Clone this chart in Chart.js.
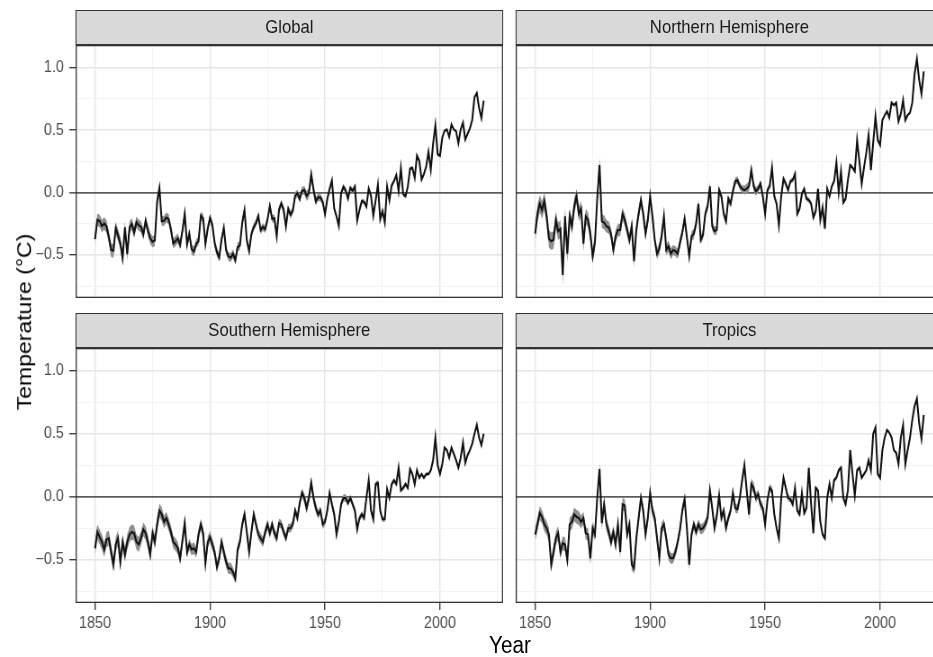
<!DOCTYPE html>
<html>
<head>
<meta charset="utf-8">
<script src="https://cdn.jsdelivr.net/npm/chart.js@4.4.1/dist/chart.umd.min.js"></script>
<style>
html,body{margin:0;padding:0;width:933px;height:657px;overflow:hidden;background:#fff;}
#wrap{position:absolute;left:0;top:0;width:1050px;height:657px;transform:scaleX(0.9);transform-origin:0 0;font-family:"Liberation Sans",Arial,Helvetica,sans-serif;}
#wrap canvas{position:absolute;}
.strip{position:absolute;box-sizing:border-box;height:35px;width:475px;background:#d9d9d9;border:1.3px solid #333;color:#1a1a1a;font-size:18.5px;line-height:32px;text-align:center;white-space:nowrap;}
#ytitle{position:absolute;left:26.7px;top:322px;transform:translate(-50%,-50%) rotate(-90deg);font-size:23px;white-space:nowrap;color:#000;}
#xtitle{position:absolute;left:566.7px;top:645px;transform:translate(-50%,-50%);font-size:23px;white-space:nowrap;color:#000;}
</style>
</head>
<body>
<div id="wrap">
  <div class="strip" style="left:84px;top:10px;">Global</div>
  <div class="strip" style="left:573px;top:10px;">Northern Hemisphere</div>
  <div class="strip" style="left:84px;top:313px;">Southern Hemisphere</div>
  <div class="strip" style="left:573px;top:313px;">Tropics</div>
  <canvas id="cGlobal" width="559" height="253" style="left:0;top:45px;"></canvas>
  <canvas id="cNH" width="475" height="253" style="left:573px;top:45px;"></canvas>
  <canvas id="cSH" width="559" height="309" style="left:0;top:348px;"></canvas>
  <canvas id="cTrop" width="475" height="309" style="left:573px;top:348px;"></canvas>
  <div id="ytitle">Temperature (°C)</div>
  <div id="xtitle">Year</div>
</div>
<script>
// ---- data (annual anomalies, °C), 1850 .. 2019 ----
const firstYear = 1850;

const globalTemp = [
-0.373,-0.218,-0.228,-0.269,-0.248,-0.272,-0.358,-0.461,-0.467,-0.284,
-0.343,-0.407,-0.524,-0.278,-0.494,-0.279,-0.251,-0.321,-0.238,-0.262,
-0.276,-0.335,-0.227,-0.304,-0.368,-0.395,-0.384,-0.075,0.035,-0.230,
-0.227,-0.200,-0.213,-0.296,-0.409,-0.389,-0.367,-0.418,-0.307,-0.171,
-0.416,-0.330,-0.455,-0.473,-0.410,-0.390,-0.186,-0.206,-0.412,-0.289,
-0.203,-0.259,-0.402,-0.479,-0.520,-0.377,-0.283,-0.465,-0.511,-0.522,
-0.490,-0.544,-0.437,-0.424,-0.244,-0.141,-0.383,-0.468,-0.333,-0.275,
-0.247,-0.187,-0.302,-0.276,-0.294,-0.215,-0.108,-0.210,-0.206,-0.350,
-0.137,-0.087,-0.137,-0.273,-0.131,-0.178,-0.147,-0.026,-0.006,-0.052,
0.014,0.020,-0.027,-0.004,0.144,0.025,-0.071,-0.038,-0.039,-0.074,
-0.173,-0.052,0.028,0.097,-0.129,-0.190,-0.267,-0.007,0.046,0.017,
-0.049,0.038,0.014,0.048,-0.223,-0.140,-0.068,-0.074,-0.113,0.032,
-0.027,-0.186,-0.065,0.062,-0.214,-0.149,-0.241,0.047,-0.062,0.057,
0.092,0.140,0.011,0.194,-0.014,-0.030,0.045,0.192,0.198,0.118,
0.296,0.254,0.105,0.148,0.208,0.325,0.183,0.390,0.539,0.306,
0.294,0.441,0.496,0.505,0.447,0.545,0.506,0.491,0.395,0.506,
0.560,0.425,0.470,0.514,0.579,0.763,0.797,0.677,0.597,0.736];

const nhTemp = [
-0.33,-0.17,-0.09,-0.14,-0.07,-0.19,-0.37,-0.39,-0.38,-0.22,
-0.31,-0.29,-0.66,-0.19,-0.49,-0.19,-0.27,-0.11,-0.03,-0.17,
-0.13,-0.41,-0.19,-0.22,-0.33,-0.51,-0.40,-0.05,0.22,-0.23,
-0.24,-0.27,-0.28,-0.33,-0.46,-0.35,-0.30,-0.30,-0.17,-0.22,
-0.30,-0.38,-0.27,-0.55,-0.30,-0.17,-0.06,-0.17,-0.33,-0.22,
-0.03,-0.19,-0.38,-0.49,-0.45,-0.35,-0.19,-0.46,-0.43,-0.49,
-0.46,-0.47,-0.49,-0.40,-0.32,-0.21,-0.36,-0.51,-0.35,-0.33,
-0.25,-0.09,-0.38,-0.34,-0.17,-0.11,0.05,-0.27,-0.31,-0.30,
0.02,-0.03,-0.17,-0.23,-0.05,-0.09,0.01,0.09,0.10,0.05,
0.03,0.02,0.03,0.05,0.18,0.05,0.01,0.03,0.07,-0.03,
-0.17,0.02,0.05,0.20,-0.03,-0.09,-0.26,-0.03,0.11,0.07,
0.02,0.09,0.10,0.15,-0.17,-0.13,-0.01,0.03,-0.05,-0.06,
-0.09,-0.20,-0.15,0.03,-0.22,-0.12,-0.29,0.03,-0.03,0.05,
0.09,0.24,0.00,0.17,-0.08,-0.05,0.10,0.22,0.20,0.17,
0.42,0.25,0.07,0.20,0.32,0.46,0.18,0.40,0.61,0.42,
0.38,0.58,0.62,0.65,0.60,0.72,0.70,0.72,0.57,0.63,
0.74,0.58,0.62,0.64,0.72,0.95,1.07,0.90,0.79,0.97];

const shTemp = [
-0.41,-0.28,-0.32,-0.36,-0.42,-0.34,-0.33,-0.44,-0.54,-0.38,
-0.33,-0.52,-0.36,-0.46,-0.36,-0.30,-0.28,-0.29,-0.36,-0.38,
-0.33,-0.26,-0.29,-0.36,-0.46,-0.29,-0.36,-0.22,-0.11,-0.14,
-0.20,-0.17,-0.22,-0.28,-0.36,-0.38,-0.41,-0.49,-0.35,-0.21,
-0.44,-0.38,-0.42,-0.41,-0.44,-0.30,-0.22,-0.29,-0.53,-0.36,
-0.32,-0.38,-0.44,-0.56,-0.49,-0.36,-0.44,-0.52,-0.57,-0.57,
-0.60,-0.65,-0.42,-0.36,-0.22,-0.14,-0.28,-0.44,-0.28,-0.14,
-0.22,-0.30,-0.33,-0.36,-0.28,-0.22,-0.29,-0.22,-0.29,-0.33,
-0.21,-0.22,-0.28,-0.33,-0.25,-0.25,-0.22,-0.11,-0.17,-0.05,
0.03,-0.01,-0.09,-0.01,0.11,-0.01,-0.09,-0.14,-0.11,-0.22,
-0.20,-0.11,0.03,-0.06,-0.14,-0.30,-0.20,-0.06,-0.01,-0.01,
-0.05,-0.01,-0.06,-0.11,-0.26,-0.17,-0.14,-0.17,-0.01,0.13,
-0.11,-0.18,0.10,0.11,-0.11,-0.18,-0.18,0.06,-0.01,0.10,
0.13,0.10,0.23,0.05,0.07,0.10,0.07,0.22,0.18,0.10,
0.21,0.15,0.18,0.15,0.18,0.18,0.21,0.29,0.47,0.25,
0.18,0.26,0.39,0.37,0.31,0.39,0.34,0.29,0.23,0.31,
0.43,0.27,0.33,0.37,0.42,0.50,0.57,0.47,0.41,0.50];

const tropicsTemp = [
-0.30,-0.22,-0.13,-0.16,-0.22,-0.25,-0.30,-0.54,-0.44,-0.33,
-0.29,-0.44,-0.37,-0.38,-0.50,-0.22,-0.20,-0.14,-0.16,-0.17,
-0.20,-0.17,-0.29,-0.30,-0.49,-0.25,-0.30,-0.01,0.22,-0.21,
-0.06,-0.22,-0.28,-0.36,-0.28,-0.38,-0.22,-0.44,-0.06,-0.07,
-0.30,-0.22,-0.54,-0.57,-0.33,-0.17,-0.01,-0.11,-0.30,-0.17,
0.03,-0.11,-0.17,-0.33,-0.49,-0.25,-0.22,-0.33,-0.46,-0.49,
-0.49,-0.44,-0.36,-0.26,-0.11,-0.02,-0.25,-0.54,-0.30,-0.22,
-0.28,-0.22,-0.26,-0.25,-0.22,-0.17,0.05,-0.09,-0.25,-0.15,
0.01,-0.17,-0.11,-0.25,-0.17,-0.11,0.03,-0.09,-0.10,-0.01,
0.13,0.25,0.05,-0.14,0.10,0.07,-0.01,0.02,-0.06,-0.09,
-0.22,-0.03,0.07,0.05,-0.14,-0.25,-0.33,-0.01,0.15,0.07,
-0.01,-0.02,-0.06,0.07,-0.11,-0.14,0.03,-0.13,-0.09,0.23,
-0.06,-0.29,0.07,0.05,-0.20,-0.30,-0.33,-0.01,0.10,-0.01,
0.13,0.15,0.21,0.23,-0.01,-0.06,0.05,0.37,0.18,0.01,
0.21,0.23,0.15,0.18,0.21,0.29,0.21,0.50,0.55,0.18,
0.15,0.37,0.47,0.53,0.51,0.47,0.37,0.35,0.26,0.47,
0.57,0.26,0.37,0.47,0.61,0.72,0.78,0.58,0.46,0.65];

// half-width of the grey uncertainty ribbon (°C)
const globalUnc = [
0.05,0.05,0.05,0.05,0.05,0.05,0.05,0.055,0.055,0.05,
0.05,0.05,0.055,0.05,0.05,0.05,0.045,0.045,0.045,0.045,
0.045,0.045,0.045,0.045,0.045,0.045,0.045,0.045,0.045,0.04,
0.04,0.04,0.04,0.04,0.04,0.04,0.04,0.04,0.04,0.04,
0.04,0.04,0.04,0.04,0.035,0.035,0.035,0.035,0.035,0.035,
0.035,0.035,0.035,0.035,0.035,0.035,0.035,0.035,0.035,0.035,
0.035,0.035,0.035,0.035,0.035,0.035,0.035,0.035,0.03,0.03,
0.03,0.03,0.03,0.03,0.03,0.03,0.03,0.03,0.03,0.03,
0.03,0.03,0.03,0.03,0.03,0.03,0.03,0.03,0.03,0.03,
0.03,0.035,0.04,0.04,0.045,0.045,0.035,0.03,0.03,0.03,
0.025,0.025,0.025,0.025,0.025,0.025,0.025,0.025,0.025,0.025,
0.02,0.02,0.02,0.02,0.02,0.02,0.02,0.02,0.02,0.02,
0.02,0.02,0.02,0.02,0.02,0.02,0.02,0.02,0.02,0.02,
0.015,0.015,0.015,0.015,0.015,0.015,0.015,0.015,0.015,0.015,
0.015,0.015,0.015,0.015,0.015,0.015,0.015,0.015,0.015,0.015,
0.012,0.012,0.012,0.012,0.012,0.012,0.012,0.012,0.012,0.012,
0.012,0.012,0.012,0.012,0.012,0.012,0.012,0.012,0.012,0.012];

const nhUnc = [
0.07,0.07,0.07,0.07,0.07,0.07,0.07,0.07,0.07,0.07,
0.07,0.07,0.08,0.07,0.07,0.065,0.065,0.065,0.06,0.06,
0.06,0.06,0.06,0.06,0.06,0.06,0.06,0.06,0.06,0.055,
0.055,0.05,0.05,0.05,0.05,0.05,0.05,0.05,0.05,0.05,
0.05,0.05,0.05,0.05,0.045,0.045,0.045,0.045,0.045,0.045,
0.045,0.045,0.045,0.045,0.045,0.045,0.045,0.045,0.045,0.045,
0.04,0.04,0.04,0.04,0.04,0.04,0.04,0.04,0.04,0.04,
0.035,0.035,0.035,0.035,0.035,0.035,0.035,0.035,0.035,0.035,
0.03,0.03,0.03,0.03,0.03,0.03,0.03,0.03,0.03,0.03,
0.03,0.035,0.04,0.04,0.04,0.04,0.035,0.03,0.03,0.03,
0.025,0.025,0.025,0.025,0.025,0.025,0.025,0.025,0.025,0.025,
0.02,0.02,0.02,0.02,0.02,0.02,0.02,0.02,0.02,0.02,
0.02,0.02,0.02,0.02,0.02,0.02,0.02,0.02,0.02,0.02,
0.015,0.015,0.015,0.015,0.015,0.015,0.015,0.015,0.015,0.015,
0.015,0.015,0.015,0.015,0.015,0.015,0.015,0.015,0.015,0.015,
0.012,0.012,0.012,0.012,0.012,0.012,0.012,0.012,0.012,0.012,
0.012,0.012,0.012,0.012,0.012,0.012,0.012,0.012,0.012,0.012];

const shUnc = [
0.06,0.06,0.06,0.06,0.06,0.06,0.06,0.06,0.06,0.06,
0.06,0.06,0.06,0.06,0.06,0.06,0.06,0.06,0.06,0.06,
0.055,0.055,0.055,0.055,0.055,0.055,0.055,0.055,0.055,0.055,
0.05,0.05,0.05,0.05,0.05,0.05,0.05,0.05,0.05,0.05,
0.045,0.045,0.045,0.045,0.045,0.045,0.045,0.045,0.045,0.045,
0.045,0.045,0.045,0.045,0.045,0.045,0.045,0.045,0.045,0.045,
0.04,0.04,0.04,0.04,0.04,0.04,0.04,0.04,0.04,0.04,
0.04,0.04,0.04,0.04,0.04,0.04,0.04,0.04,0.04,0.04,
0.035,0.035,0.035,0.035,0.035,0.035,0.035,0.035,0.035,0.035,
0.035,0.04,0.045,0.045,0.045,0.045,0.04,0.035,0.035,0.035,
0.03,0.03,0.03,0.03,0.03,0.03,0.03,0.03,0.03,0.03,
0.025,0.025,0.025,0.025,0.025,0.025,0.025,0.025,0.025,0.025,
0.02,0.02,0.02,0.02,0.02,0.02,0.02,0.02,0.02,0.02,
0.018,0.018,0.018,0.018,0.018,0.018,0.018,0.018,0.018,0.018,
0.015,0.015,0.015,0.015,0.015,0.015,0.015,0.015,0.015,0.015,
0.012,0.012,0.012,0.012,0.012,0.012,0.012,0.012,0.012,0.012,
0.012,0.012,0.012,0.012,0.012,0.012,0.012,0.012,0.012,0.012];

const tropicsUnc = [
0.055,0.055,0.055,0.055,0.055,0.055,0.055,0.055,0.055,0.055,
0.055,0.055,0.055,0.055,0.055,0.055,0.055,0.055,0.055,0.055,
0.05,0.05,0.05,0.05,0.05,0.05,0.05,0.05,0.05,0.05,
0.05,0.05,0.05,0.05,0.05,0.05,0.05,0.05,0.05,0.05,
0.045,0.045,0.045,0.045,0.045,0.045,0.045,0.045,0.045,0.045,
0.045,0.045,0.045,0.045,0.045,0.045,0.045,0.045,0.045,0.045,
0.04,0.04,0.04,0.04,0.04,0.04,0.04,0.04,0.04,0.04,
0.04,0.04,0.04,0.04,0.04,0.04,0.04,0.04,0.04,0.04,
0.035,0.035,0.035,0.035,0.035,0.035,0.035,0.035,0.035,0.035,
0.035,0.04,0.045,0.045,0.045,0.045,0.04,0.035,0.035,0.035,
0.03,0.03,0.03,0.03,0.03,0.03,0.03,0.03,0.03,0.03,
0.025,0.025,0.025,0.025,0.025,0.025,0.025,0.025,0.025,0.025,
0.02,0.02,0.02,0.02,0.02,0.02,0.02,0.02,0.02,0.02,
0.018,0.018,0.018,0.018,0.018,0.018,0.018,0.018,0.018,0.018,
0.015,0.015,0.015,0.015,0.015,0.015,0.015,0.015,0.015,0.015,
0.012,0.012,0.012,0.012,0.012,0.012,0.012,0.012,0.012,0.012,
0.012,0.012,0.012,0.012,0.012,0.012,0.012,0.012,0.012,0.012];

// axes
const xTickValues = [1850, 1875, 1900, 1925, 1950, 1975, 2000, 2025];
const xLabelValues = [1850, 1900, 1950, 2000];
const yTickValues = [-0.75, -0.5, -0.25, 0, 0.25, 0.5, 0.75, 1.0];
const yLabelValues = [-0.5, 0, 0.5, 1.0];
const xMin = 1841.55, xMax = 2027.45;
const yMin = -0.845, yMax = 1.182;

// ---- drawing ----
const FONT = '"Liberation Sans", Arial, Helvetica, sans-serif';
const isXMajor = v => xLabelValues.indexOf(v) >= 0;
const isYMajor = v => yLabelValues.some(m => Math.abs(m - v) < 1e-9);
const fmtY = v => (v < 0 ? '\u2212' : '') + Math.abs(v).toFixed(1);

const panelBorder = {
  id: 'panelBorder',
  afterDraw(chart) {
    const a = chart.chartArea, c = chart.ctx;
    c.save();
    c.strokeStyle = '#333333';
    c.lineWidth = 1.3;
    c.strokeRect(a.left + 0.65, a.top + 0.65, a.right - a.left - 1.3, a.bottom - a.top - 1.3);
    c.restore();
  }
};

function makePanel(canvasId, vals, unc, showY, showX) {
  const line = vals.map((v, i) => ({x: firstYear + i, y: v}));
  const upper = vals.map((v, i) => ({x: firstYear + i, y: v + unc[i]}));
  const lower = vals.map((v, i) => ({x: firstYear + i, y: v - unc[i]}));
  return new Chart(document.getElementById(canvasId), {
    type: 'line',
    data: {
      datasets: [
        {data: line, borderColor: '#111111', borderWidth: 2, pointRadius: 0, fill: false, tension: 0, order: 0},
        {data: upper, borderColor: 'rgba(0,0,0,0)', borderWidth: 1, pointRadius: 0, fill: '+1', backgroundColor: '#8f8f8f', tension: 0, order: 1},
        {data: lower, borderColor: 'rgba(0,0,0,0)', borderWidth: 1, pointRadius: 0, fill: false, tension: 0, order: 2}
      ]
    },
    options: {
      responsive: false, animation: false, devicePixelRatio: 1, events: [],
      layout: {padding: 0},
      plugins: {legend: {display: false}, tooltip: {enabled: false}},
      scales: {
        x: {
          type: 'linear', min: xMin, max: xMax,
          afterBuildTicks: s => { s.ticks = xTickValues.map(v => ({value: v})); },
          afterFit: s => { s.height = showX ? 54 : 0; s.paddingLeft = 0; s.paddingRight = 0; s.paddingTop = 0; s.paddingBottom = 0; },
          border: {display: false},
          grid: {
            drawTicks: showX, tickLength: 7,
            color: c => isXMajor(c.tick.value) ? '#e6e6e6' : '#f2f2f2',
            lineWidth: c => isXMajor(c.tick.value) ? 1.4 : 0.9,
            tickColor: c => isXMajor(c.tick.value) ? '#333333' : 'rgba(0,0,0,0)',
            tickWidth: 1.3
          },
          ticks: {
            display: showX, autoSkip: false, maxRotation: 0, minRotation: 0, padding: 4,
            color: '#4d4d4d', font: {family: FONT, size: 16},
            callback: v => isXMajor(v) ? String(v) : ''
          }
        },
        y: {
          type: 'linear', min: yMin, max: yMax,
          afterBuildTicks: s => { s.ticks = yTickValues.map(v => ({value: v})); },
          afterFit: s => { s.width = showY ? 84 : 0; s.paddingTop = 0; s.paddingBottom = 0; s.paddingLeft = 0; s.paddingRight = 0; },
          border: {display: false},
          grid: {
            drawTicks: showY, tickLength: 7,
            color: c => c.tick.value === 0 ? '#5c5c5c' : (isYMajor(c.tick.value) ? '#e6e6e6' : '#f2f2f2'),
            lineWidth: c => c.tick.value === 0 ? 1.7 : (isYMajor(c.tick.value) ? 1.4 : 0.9),
            tickColor: c => isYMajor(c.tick.value) ? '#333333' : 'rgba(0,0,0,0)',
            tickWidth: 1.3
          },
          ticks: {
            display: showY, autoSkip: false, padding: 6,
            color: '#4d4d4d', font: {family: FONT, size: 16},
            callback: v => isYMajor(v) ? fmtY(v) : ''
          }
        }
      }
    },
    plugins: [panelBorder]
  });
}

makePanel('cGlobal', globalTemp, globalUnc, true, false);
makePanel('cNH', nhTemp, nhUnc, false, false);
makePanel('cSH', shTemp, shUnc, true, true);
makePanel('cTrop', tropicsTemp, tropicsUnc, false, true);
</script>
</body>
</html>
